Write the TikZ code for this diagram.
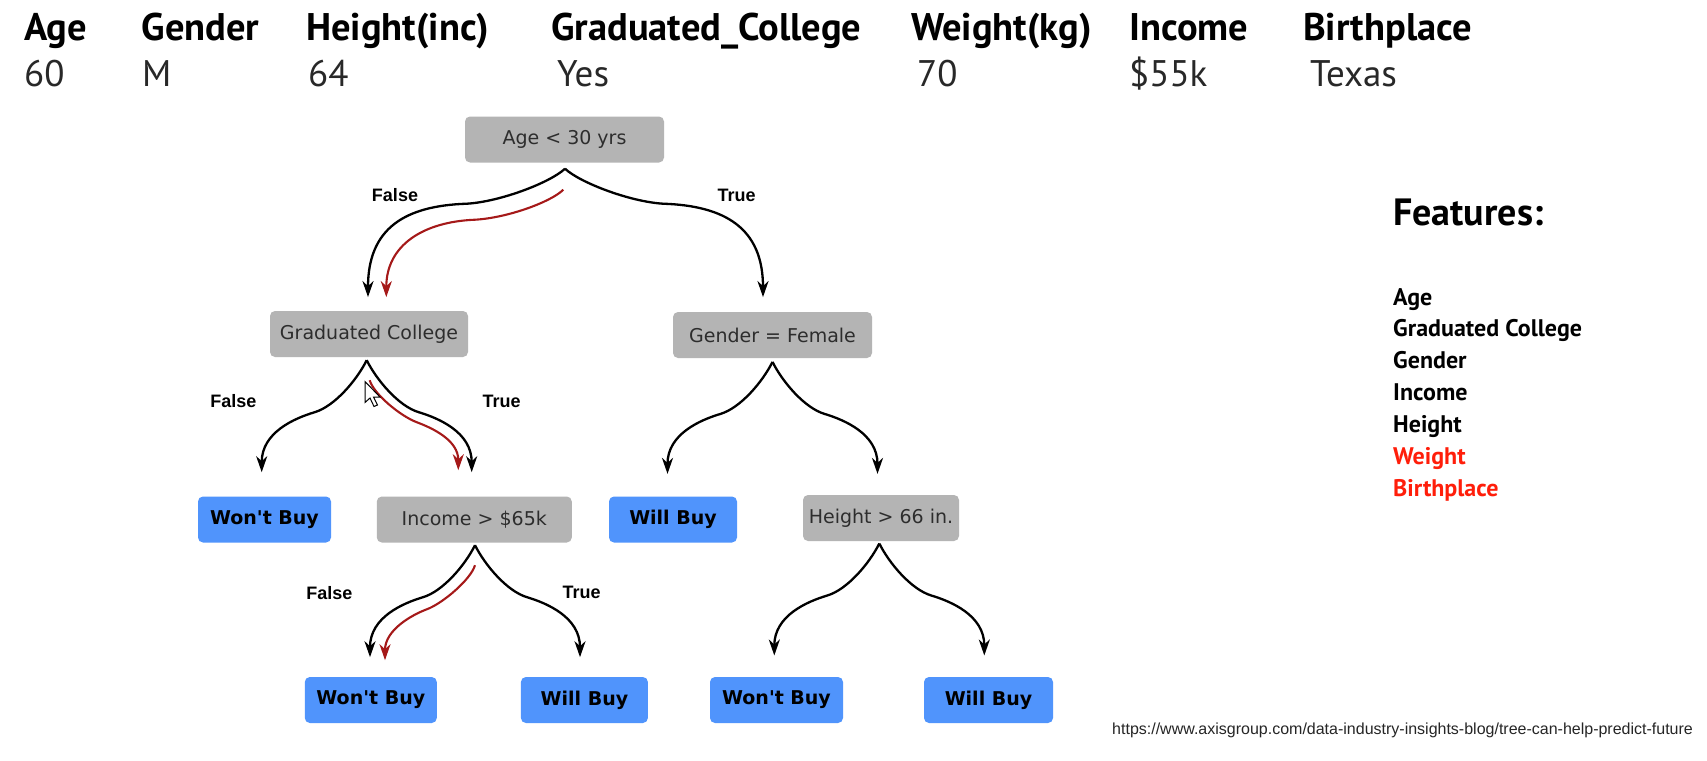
\documentclass[tikz,border=0pt]{standalone}
\usepackage{fontspec}
\setmainfont{PT Sans}
\newfontfamily\treefont{DejaVu Sans}
\newfontfamily\lblfont{Liberation Sans}
\usetikzlibrary{arrows.meta,calc}
\definecolor{boxgray}{RGB}{180,180,180}
\definecolor{boxblue}{RGB}{80,148,252}
\definecolor{pathred}{RGB}{165,25,25}
\definecolor{featred}{RGB}{255,30,10}
\definecolor{nodetext}{RGB}{45,45,45}
\definecolor{valtext}{RGB}{40,40,40}
\begin{document}
\begin{tikzpicture}[x=1pt,y=-1pt,
  hdr/.style={anchor=base west,inner sep=0pt,font=\fontsize{38.5}{42}\selectfont\bfseries},
  val/.style={anchor=base west,inner sep=0pt,font=\fontsize{37}{40}\selectfont,text=valtext},
  feat/.style={anchor=base west,inner sep=0pt,font=\fontsize{24}{28}\selectfont\bfseries},
  qbox/.style={rectangle,rounded corners=5pt,minimum height=46pt,inner sep=0pt,fill=boxgray,text=nodetext,font=\treefont\fontsize{19}{22}\selectfont},
  leaf/.style={rectangle,rounded corners=5pt,minimum height=46pt,inner sep=0pt,fill=boxblue,text=black,font=\treefont\bfseries\fontsize{19}{22}\selectfont},
  br/.style={line width=2.3pt,draw=black,-{Stealth[length=16pt,width=11pt,inset=5pt]}},
  rbr/.style={line width=2.1pt,draw=pathred,-{Stealth[length=16pt,width=11pt,inset=5pt]}},
  lbl/.style={inner sep=0pt,font=\lblfont\bfseries\fontsize{18}{20}\selectfont},
  url/.style={anchor=base west,inner sep=0pt,font=\lblfont\fontsize{16}{18}\selectfont,text=black!85}
]
\useasboundingbox (0,0) rectangle (1707,760);
\fill[white] (0,0) rectangle (1707,760);

% header table
\node[hdr] (h1) at (24,41) {Age};
\node[hdr] (h2) at (141.5,41) {Gender};
\node[hdr] (h3) at (306,41) {Height(inc)};
\node[hdr] (h4) at (551,41) {Graduated\_College};
\node[hdr] (h5) at (911,41) {Weight(kg)};
\node[hdr] (h6) at (1129,41) {Income};
\node[hdr] (h7) at (1303,41) {Birthplace};
\node[val] (v1) at (24,86) {60};
\node[val] (v2) at (142,86) {M};
\node[val] (v3) at (308,86) {64};
\node[val] (v4) at (557,86) {Yes};
\node[val] (v5) at (917,86) {70};
\node[val] (v6) at (1129,86) {\$55k};
\node[val] (v7) at (1310,86) {Texas};

% features
\node[anchor=base west,inner sep=0pt,font=\fontsize{38}{42}\selectfont\bfseries] (ft) at (1393,225) {Features:};
\node[feat] (f1) at (1393,305) {Age};
\node[feat] (f2) at (1393,336.5) {Graduated College};
\node[feat] (f3) at (1393,368) {Gender};
\node[feat] (f4) at (1393,400) {Income};
\node[feat] (f5) at (1393,432) {Height};
\node[feat,text=featred] (f6) at (1393,464) {Weight};
\node[feat,text=featred] (f7) at (1393,496) {Birthplace};

% tree nodes
\node[qbox,minimum width=199pt] (root) at (564.5,139.5) {Age < 30 yrs};
\node[qbox,minimum width=198pt] (gc) at (369,334) {Graduated College};
\node[qbox,minimum width=199pt] (gf) at (772.5,335) {Gender = Female};
\node[leaf,minimum width=133pt] (wb1) at (264.5,519.5) {Won't Buy};
\node[qbox,minimum width=195pt] (inc) at (474.3,519.5) {Income > \$65k};
\node[leaf,minimum width=128pt] (wil1) at (673,519.5) {Will Buy};
\node[qbox,minimum width=156pt] (ht) at (881,518) {Height > 66 in.};
\node[leaf,minimum width=132pt] (wb2) at (370.8,700) {Won't Buy};
\node[leaf,minimum width=127pt] (wil2) at (584.4,700) {Will Buy};
\node[leaf,minimum width=133pt] (wb3) at (776.5,700) {Won't Buy};
\node[leaf,minimum width=129pt] (wil3) at (988.5,700) {Will Buy};

% branch points and ends
\coordinate (c-root) at ($(root.south)+(0.5,6)$);
\coordinate (c-gc) at ($(gc.south)+(-2.3,3)$);
\coordinate (c-gf) at ($(gf.south)+(0,3.7)$);
\coordinate (c-inc) at ($(inc.south)+(0.7,2.5)$);
\coordinate (c-ht) at ($(ht.south)+(-1.7,2.3)$);
\coordinate (e-gc) at ($(c-root)+(-197,128.4)$);
\coordinate (e-gf) at ($(c-root)+(198,128.4)$);
\coordinate (e-wb1) at ($(c-gc)+(-105,112)$);
\coordinate (e-inc) at ($(c-gc)+(105,112)$);
\coordinate (e-wil1) at ($(c-gf)+(-105,112)$);
\coordinate (e-ht) at ($(c-gf)+(105,112)$);
\coordinate (e-wb2) at ($(c-inc)+(-105,112)$);
\coordinate (e-wil2) at ($(c-inc)+(105,112)$);
\coordinate (e-wb3) at ($(c-ht)+(-105,112)$);
\coordinate (e-wil3) at ($(c-ht)+(105,112)$);
\coordinate (r-root) at ($(c-root)+(-1.7,21)$);
\coordinate (r-gc) at ($(c-gc)+(3,20)$);
\coordinate (r-inc) at ($(c-inc)+(0,20)$);
\coordinate (re-gc) at ($(r-root)+(-177,107.4)$);
\coordinate (re-inc) at ($(r-gc)+(88.6,90)$);
\coordinate (re-wb2) at ($(r-inc)+(-90,95)$);

% root split
\draw[br] (c-root) .. controls +(-15,14) and +(33,-2) .. ++(-98,35) .. controls +(-62,2) and +(0,-69) .. (e-gc);
\draw[br] (c-root) .. controls +(15,14) and +(-33,-2) .. ++(98,35) .. controls +(62,2) and +(0,-69) .. (e-gf);
% standard splits
\draw[br] (c-gc) .. controls +(-10,20) and +(20,-6) .. ++(-52,52) .. controls +(-20,6) and +(0,-40) .. (e-wb1);
\draw[br] (c-gc) .. controls +(10,20) and +(-20,-6) .. ++(52,52) .. controls +(20,6) and +(0,-40) .. (e-inc);
\draw[br] (c-gf) .. controls +(-10,20) and +(20,-6) .. ++(-52,52) .. controls +(-20,6) and +(0,-40) .. (e-wil1);
\draw[br] (c-gf) .. controls +(10,20) and +(-20,-6) .. ++(52,52) .. controls +(20,6) and +(0,-40) .. (e-ht);
\draw[br] (c-inc) .. controls +(-10,20) and +(20,-6) .. ++(-52,52) .. controls +(-20,6) and +(0,-40) .. (e-wb2);
\draw[br] (c-inc) .. controls +(10,20) and +(-20,-6) .. ++(52,52) .. controls +(20,6) and +(0,-40) .. (e-wil2);
\draw[br] (c-ht) .. controls +(-10,20) and +(20,-6) .. ++(-52,52) .. controls +(-20,6) and +(0,-40) .. (e-wb3);
\draw[br] (c-ht) .. controls +(10,20) and +(-20,-6) .. ++(52,52) .. controls +(20,6) and +(0,-40) .. (e-wil3);
% red decision path
\draw[rbr] (r-root) .. controls +(-12,12) and +(33,-2) .. ++(-88,30) .. controls +(-52,2) and +(0,-52) .. (re-gc);
\draw[rbr] (r-gc) .. controls +(4,14) and +(-16,-6) .. ++(47,42) .. controls +(16,6) and +(0,-30) .. (re-inc);
\draw[rbr] (r-inc) .. controls +(-4,14) and +(16,-6) .. ++(-48,44) .. controls +(-16,6) and +(0,-30) .. (re-wb2);

% branch labels
\node[lbl] (l1) at (395,195) {False};
\node[lbl] (l2) at (736.7,195) {True};
\node[lbl] (l3) at (233.3,401) {False};
\node[lbl] (l4) at (501.7,401) {True};
\node[lbl] (l5) at (329.3,592.7) {False};
\node[lbl] (l6) at (581.7,592.7) {True};

% mouse pointer
\coordinate (cur) at (365,381.5);
\filldraw[fill=white,draw=black,line width=1pt,line join=miter]
  (cur) -- ++(0,21) -- ++(5,-4.5) -- ++(4,8.5) -- ++(3.5,-1.5) -- ++(-4,-8) -- ++(6.5,0) -- cycle;

% source
\node[url] (src) at (1112,734) {https://www.axisgroup.com/data-industry-insights-blog/tree-can-help-predict-future};
\end{tikzpicture}
\end{document}
